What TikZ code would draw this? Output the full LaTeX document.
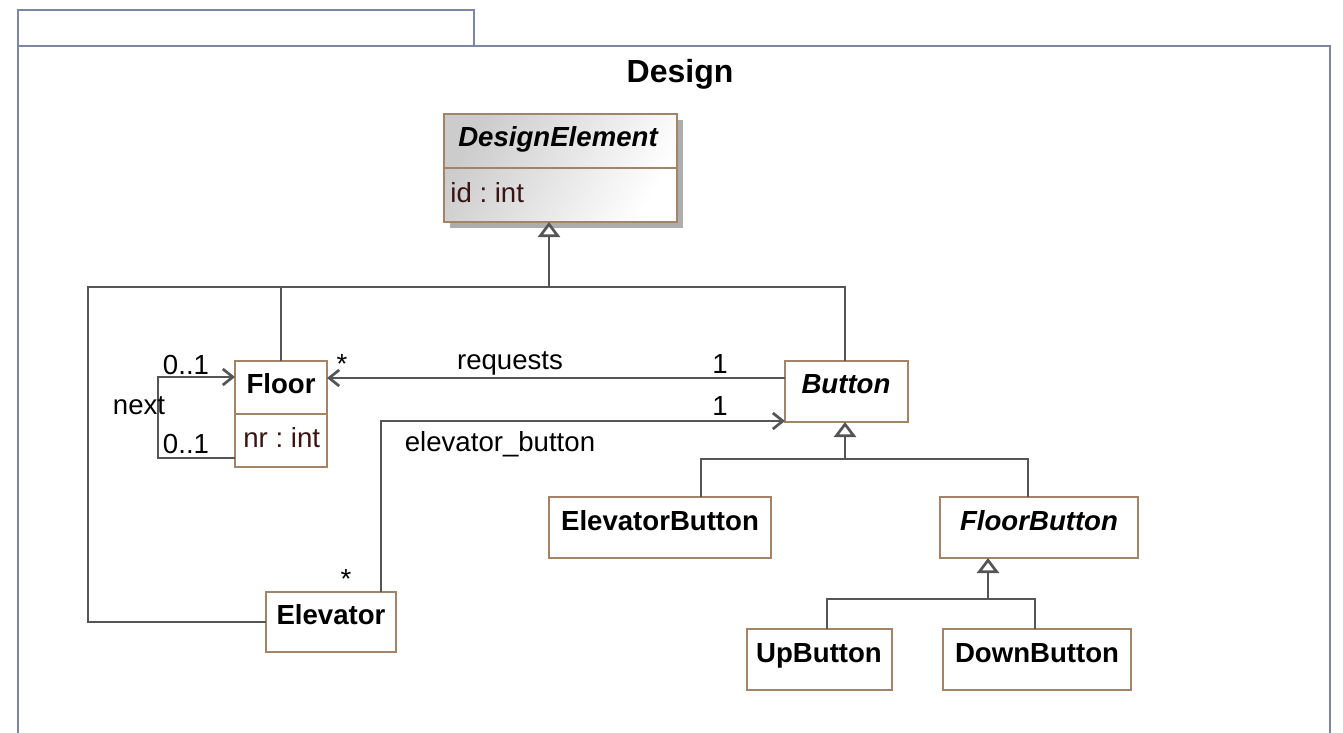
\documentclass[tikz,border=0pt]{standalone}
\usepackage{fontspec}
\setmainfont{Liberation Sans}
\usetikzlibrary{arrows.meta,fit}
\definecolor{framecol}{HTML}{7C86A6}
\definecolor{boxcol}{HTML}{A38469}
\definecolor{linecol}{HTML}{555555}
\definecolor{attrcol}{HTML}{3A1414}
\frenchspacing
\begin{document}
\begin{tikzpicture}[x=0.5pt,y=-0.5pt,
  every node/.style={font=\fontsize{13.8}{16}\selectfont},
  umlbox/.style={draw=boxcol, line width=1.3pt, inner sep=0pt, outer sep=0pt},
  cname/.style={anchor=base, font=\fontsize{13.8}{16}\selectfont\bfseries},
  aname/.style={anchor=base, font=\fontsize{13.8}{16}\selectfont\bfseries\itshape},
  attr/.style={anchor=base west, text=attrcol},
  lbl/.style={anchor=base, inner sep=0pt},
  conn/.style={draw=linecol, line width=1.35pt},
  navto/.style={conn, -{Straight Barb[length=5pt, width=8pt, line width=1.35pt]}},
  gen/.style={conn, -{Triangle[open, fill=white, length=7.5pt, width=11pt, line width=1.35pt]}},
  framel/.style={draw=framecol, line width=1.3pt}]
\useasboundingbox (0,0) rectangle (1343,733);

% package frame
\draw[framel] (18,46) rectangle (474,10);
\draw[framel] (18,733) |- (1330,46) -- (1330,733);
\node[anchor=base, font=\fontsize{16}{19}\selectfont\bfseries] (title) at (680,83) {Design};

% DesignElement (abstract, shaded, with shadow)
\fill[black!32] (450,120) rectangle (683,228);
\shade[left color=black!20, right color=white, shading angle=60] (444,114) rectangle (677,222);
\node[umlbox, fit={(444,114) (677,222)}] (de) {};
\draw[draw=boxcol, line width=1.3pt] (444,168) -- (677,168);
\node[aname] (deName) at (558,147) {DesignElement};
\node[attr, inner sep=0pt] (deAttr) at (450,202) {id : int};

% Floor
\node[umlbox, fill=white, fit={(235,361) (327,467)}] (floor) {};
\draw[draw=boxcol, line width=1.3pt] (235,414) -- (327,414);
\node[cname] (floorName) at (281,393) {Floor};
\node[attr, inner sep=0pt] (floorAttr) at (243,447) {nr : int};

% other classes
\node[umlbox, fill=white, fit={(785,361) (908,422)}] (button) {};
\node[aname] (buttonName) at (846,393) {Button};
\node[umlbox, fill=white, fit={(266,592) (396,652)}] (elev) {};
\node[cname] (elevName) at (331,624) {Elevator};
\node[umlbox, fill=white, fit={(549,497) (771,558)}] (eb) {};
\node[cname] (ebName) at (660,530) {ElevatorButton};
\node[umlbox, fill=white, fit={(940,497) (1138,558)}] (fb) {};
\node[aname] (fbName) at (1039,530) {FloorButton};
\node[umlbox, fill=white, fit={(747,629) (892,690)}] (up) {};
\node[cname] (upName) at (819,662) {UpButton};
\node[umlbox, fill=white, fit={(943,629) (1131,690)}] (down) {};
\node[cname] (downName) at (1037,662) {DownButton};

% generalization to DesignElement
\coordinate (g1) at (549,287);
\coordinate (gl) at (88,287);
\coordinate (gr) at (845,287);
\draw[gen] (g1) -- (de.south -| g1);
\draw[conn] (elev.west) -| (gl) -- (gr) -- (button.north -| gr);
\draw[conn] (floor.north |- g1) -- (floor.north);

% generalization to Button
\coordinate (g2) at (845,459);
\draw[gen] (g2) -- (button.south -| g2);
\draw[conn] (eb.north -| 701,0) |- (g2) -| (fb.north -| 1028,0);

% generalization to FloorButton
\coordinate (g3) at (988,599);
\draw[gen] (g3) -- (fb.south -| g3);
\draw[conn] (up.north -| 827,0) |- (g3) -| (down.north -| 1035,0);

% reflexive association next
\coordinate (nx) at (158,417);
\draw[navto] (floor.west |- 0,458) -| (nx) |- (floor.west |- 0,377);
\node[lbl] (nextL) at (139,414) {next};
\node[lbl] (m1) at (186,374) {0..1};
\node[lbl] (m2) at (186,453) {0..1};

% association requests
\draw[navto] (button.west |- 0,378) -- (floor.east |- 0,378);
\node[lbl] (reqL) at (510,369) {requests};
\node[lbl] (reqA) at (342,373) {*};
\node[lbl] (reqB) at (720,373) {1};

% association elevator_button
\draw[navto] (elev.north -| 381,0) |- (button.west |- 0,421);
\node[lbl] (ebL) at (500,451) {elevator\_button};
\node[lbl] (ebA) at (346,588) {*};
\node[lbl] (ebB) at (720,415) {1};
\end{tikzpicture}
\end{document}
